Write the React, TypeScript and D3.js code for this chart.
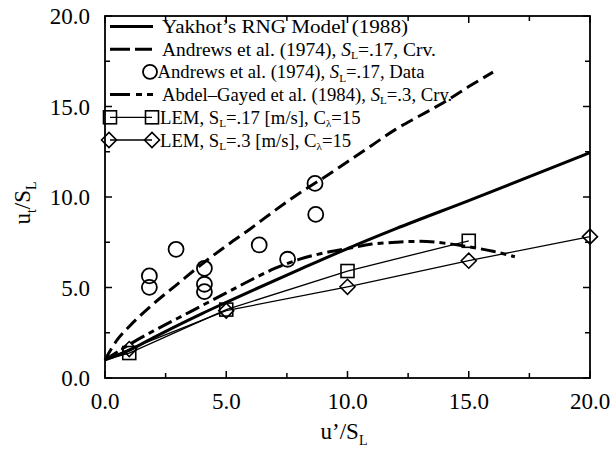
import React from "react";
import * as d3 from "d3";

// ---- data ----
const majorTicks = [0, 5, 10, 15, 20];
const minorTicks = [2.5, 7.5, 12.5, 17.5];
const tickLabels = ["0.0", "5.0", "10.0", "15.0", "20.0"];

const yakhotX = [0, 1, 2, 3, 4, 5, 6, 8, 10, 12, 15, 20];
const yakhotY = [1.0, 1.53, 2.23, 2.91, 3.56, 4.18, 4.79, 5.98, 7.15, 8.25, 9.8, 12.45];

// Andrews et al. (1974) curve (long dashes)
const andrewsCrvX = [0, 0.5, 1, 2, 3, 4, 5, 6, 7, 8, 9, 10, 11, 12, 13, 14, 15, 16];
const andrewsCrvY = [1.0, 2.1, 2.85, 4.1, 5.2, 6.3, 7.3, 8.25, 9.25, 10.2, 11.05, 11.95, 12.85, 13.75, 14.5, 15.25, 16.1, 16.9];

const andrewsDataX = [1.83, 1.83, 2.93, 4.1, 4.1, 4.1, 6.36, 7.53, 8.69, 8.66];
const andrewsDataY = [5.64, 5.01, 7.11, 6.06, 5.18, 4.77, 7.35, 6.56, 9.04, 10.75];

// Abdel-Gayed et al. (1984) curve (long-short dashes)
const abdelX = [0, 1, 2, 3, 4, 5, 6, 7, 8, 9, 10, 11, 12, 13, 14, 15, 16, 16.9];
const abdelY = [1.0, 1.85, 2.6, 3.3, 4.0, 4.7, 5.4, 6.05, 6.55, 6.9, 7.15, 7.4, 7.5, 7.55, 7.45, 7.25, 7.0, 6.7];

const lem17X = [0, 1, 5, 10, 15];
const lem17Y = [1.0, 1.38, 3.78, 5.91, 7.58];
const lem17MarkX = [1, 5, 10, 15];

const lem3X = [0, 1, 5, 10, 15, 20];
const lem3Y = [1.0, 1.6, 3.72, 5.04, 6.48, 7.81];
const lem3MarkX = [1, 5, 10, 15, 20];

const FONT = "'Liberation Serif', 'Times New Roman', serif";

type Seg = { t: string; it?: boolean; sub?: boolean };
const legendTexts: Seg[][] = [
  [{ t: "Yakhot\u2019s RNG Model (1988)" }],
  [{ t: "Andrews et al. (1974), " }, { t: "S", it: true }, { t: "L", sub: true }, { t: "=.17, Crv." }],
  [{ t: "Andrews et al. (1974), " }, { t: "S", it: true }, { t: "L", sub: true }, { t: "=.17, Data" }],
  [{ t: "Abdel\u2013Gayed et al. (1984), " }, { t: "S", it: true }, { t: "L", sub: true }, { t: "=.3, Cry." }],
  [{ t: "LEM, S" }, { t: "L", sub: true }, { t: "=.17 [m/s], C" }, { t: "\u03bb", sub: true }, { t: "=15" }],
  [{ t: "LEM, S" }, { t: "L", sub: true }, { t: "=.3 [m/s], C" }, { t: "\u03bb", sub: true }, { t: "=15" }],
];
const legendStretch = [1.13, 1.04, 1, 1, 1, 1];

function RichText({ segs, x, y, size, sx }: { segs: Seg[]; x: number; y: number; size: number; sx: number }) {
  const out: React.ReactNode[] = [];
  let prevSub = false;
  const shift = 3.2;
  segs.forEach((s, i) => {
    let dy = 0;
    if (s.sub && !prevSub) dy = shift;
    if (!s.sub && prevSub) dy = -shift;
    out.push(
      <tspan key={i} dy={dy} fontStyle={s.it ? "italic" : "normal"} fontSize={s.sub ? size * 0.6 : size}>
        {s.t}
      </tspan>
    );
    prevSub = !!s.sub;
  });
  return (
    <text transform={`translate(${x},${y}) scale(${sx},1)`} x={0} y={0} fontFamily={FONT} fontSize={size} fill="#000">
      {out}
    </text>
  );
}

export default function App() {
  const W = 616, H = 452;
  const x = d3.scaleLinear().domain([0, 20]).range([105, 590]);
  const y = d3.scaleLinear().domain([0, 20]).range([378, 16]);

  const line = d3
    .line<[number, number]>()
    .x((d) => x(d[0]))
    .y((d) => y(d[1]))
    .curve(d3.curveMonotoneX);
  const straight = d3
    .line<[number, number]>()
    .x((d) => x(d[0]))
    .y((d) => y(d[1]));

  const zip = (a: number[], b: number[]) => a.map((v, i) => [v, b[i]] as [number, number]);

  const [x0, x1] = x.range();
  const [y0, y1] = y.range();
  const majLen = 7, minLen = 5;

  const tickEls: React.ReactNode[] = [];
  majorTicks.forEach((t, i) => {
    tickEls.push(<line key={"bx" + i} x1={x(t)} x2={x(t)} y1={y0} y2={y0 - majLen} />);
    tickEls.push(<line key={"tx" + i} x1={x(t)} x2={x(t)} y1={y1} y2={y1 + majLen} />);
    tickEls.push(<line key={"ly" + i} x1={x0} x2={x0 + majLen} y1={y(t)} y2={y(t)} />);
    tickEls.push(<line key={"ry" + i} x1={x1} x2={x1 - majLen} y1={y(t)} y2={y(t)} />);
  });
  minorTicks.forEach((t, i) => {
    tickEls.push(<line key={"mbx" + i} x1={x(t)} x2={x(t)} y1={y0} y2={y0 - minLen} />);
    tickEls.push(<line key={"mtx" + i} x1={x(t)} x2={x(t)} y1={y1} y2={y1 + minLen} />);
    tickEls.push(<line key={"mly" + i} x1={x0} x2={x0 + minLen} y1={y(t)} y2={y(t)} />);
    tickEls.push(<line key={"mry" + i} x1={x1} x2={x1 - minLen} y1={y(t)} y2={y(t)} />);
  });

  const sq = (cx: number, cy: number, k: string) => (
    <rect key={k} x={cx - 6.5} y={cy - 6.5} width={13} height={13} fill="none" stroke="#000" strokeWidth={1.6} />
  );
  const dia = (cx: number, cy: number, k: string) => (
    <path key={k} d={`M${cx - 7.5},${cy} L${cx},${cy - 7.5} L${cx + 7.5},${cy} L${cx},${cy + 7.5} Z`} fill="none" stroke="#000" strokeWidth={1.6} />
  );

  const rowY = [26.5, 49.2, 71.9, 94.6, 117.3, 140];
  const legSize = 18.7;
  const tickSize = 23;

  return (
    <svg width={W} height={H} style={{ position: "absolute", left: 0, top: 0, background: "#fff" }}>
      <rect x={0} y={0} width={W} height={H} fill="#fff" />
      {/* frame */}
      <rect x={x0} y={y1} width={x1 - x0} height={y0 - y1} fill="none" stroke="#000" strokeWidth={1.8} />
      <g stroke="#000" strokeWidth={1.5}>{tickEls}</g>

      {/* tick labels */}
      {majorTicks.map((t, i) => (
        <text key={"xl" + i} x={x(t)} y={409} textAnchor="middle" fontFamily={FONT} fontSize={tickSize}>
          {tickLabels[i]}
        </text>
      ))}
      {majorTicks.map((t, i) => (
        <text key={"yl" + i} x={90} y={y(t) + 8} textAnchor="end" fontFamily={FONT} fontSize={tickSize}>
          {tickLabels[i]}
        </text>
      ))}

      {/* axis titles */}
      <text x={344} y={439} textAnchor="middle" fontFamily={FONT} fontSize={23}>
        <tspan>u’/S</tspan>
        <tspan dy={6} fontSize={14}>L</tspan>
      </text>
      <text transform={`translate(30,203) rotate(-90)`} textAnchor="middle" fontFamily={FONT} fontSize={23}>
        <tspan>u</tspan>
        <tspan dy={6} fontSize={14}>t</tspan>
        <tspan dy={-6}>/S</tspan>
        <tspan dy={6} fontSize={14}>L</tspan>
      </text>

      {/* curves */}
      <path d={line(zip(andrewsCrvX, andrewsCrvY)) || ""} fill="none" stroke="#000" strokeWidth={3} strokeDasharray="13,6" />
      <path d={line(zip(abdelX, abdelY)) || ""} fill="none" stroke="#000" strokeWidth={3} strokeDasharray="15,5,6,5" />
      <path d={line(zip(yakhotX, yakhotY)) || ""} fill="none" stroke="#000" strokeWidth={3} />
      <path d={straight(zip(lem17X, lem17Y)) || ""} fill="none" stroke="#000" strokeWidth={1.3} />
      <path d={straight(zip(lem3X, lem3Y)) || ""} fill="none" stroke="#000" strokeWidth={1.3} />

      {/* markers */}
      {andrewsDataX.map((v, i) => (
        <circle key={"c" + i} cx={x(v)} cy={y(andrewsDataY[i])} r={7.5} fill="none" stroke="#000" strokeWidth={1.8} />
      ))}
      {lem17X.map((v, i) => (lem17MarkX.includes(v) ? sq(x(v), y(lem17Y[i]), "s" + i) : null))}
      {lem3X.map((v, i) => (lem3MarkX.includes(v) ? dia(x(v), y(lem3Y[i]), "d" + i) : null))}

      {/* legend */}
      <g stroke="#000" fill="none">
        <line x1={110} x2={153} y1={rowY[0]} y2={rowY[0]} strokeWidth={3} />
        <line x1={110} x2={153} y1={rowY[1]} y2={rowY[1]} strokeWidth={3} strokeDasharray="20,5,17,5" />
        <circle cx={150} cy={rowY[2]} r={7} strokeWidth={1.8} />
        <line x1={110} x2={153} y1={rowY[3]} y2={rowY[3]} strokeWidth={3} strokeDasharray="20,6,6,5,6,5" />
        <line x1={110} x2={152} y1={rowY[4]} y2={rowY[4]} strokeWidth={1.3} />
        <line x1={110} x2={152} y1={rowY[5]} y2={rowY[5]} strokeWidth={1.3} />
      </g>
      {sq(110, rowY[4], "ls1")}
      {sq(152, rowY[4], "ls2")}
      {dia(109, rowY[5], "ld1")}
      {dia(152, rowY[5], "ld2")}
      {legendTexts.map((segs, i) => (
        <RichText
          key={"lt" + i}
          segs={segs}
          x={i === 2 ? 157.5 : i >= 4 ? 160 : 162}
          y={rowY[i] + 6.5}
          size={legSize}
          sx={legendStretch[i]}
        />
      ))}
    </svg>
  );
}
